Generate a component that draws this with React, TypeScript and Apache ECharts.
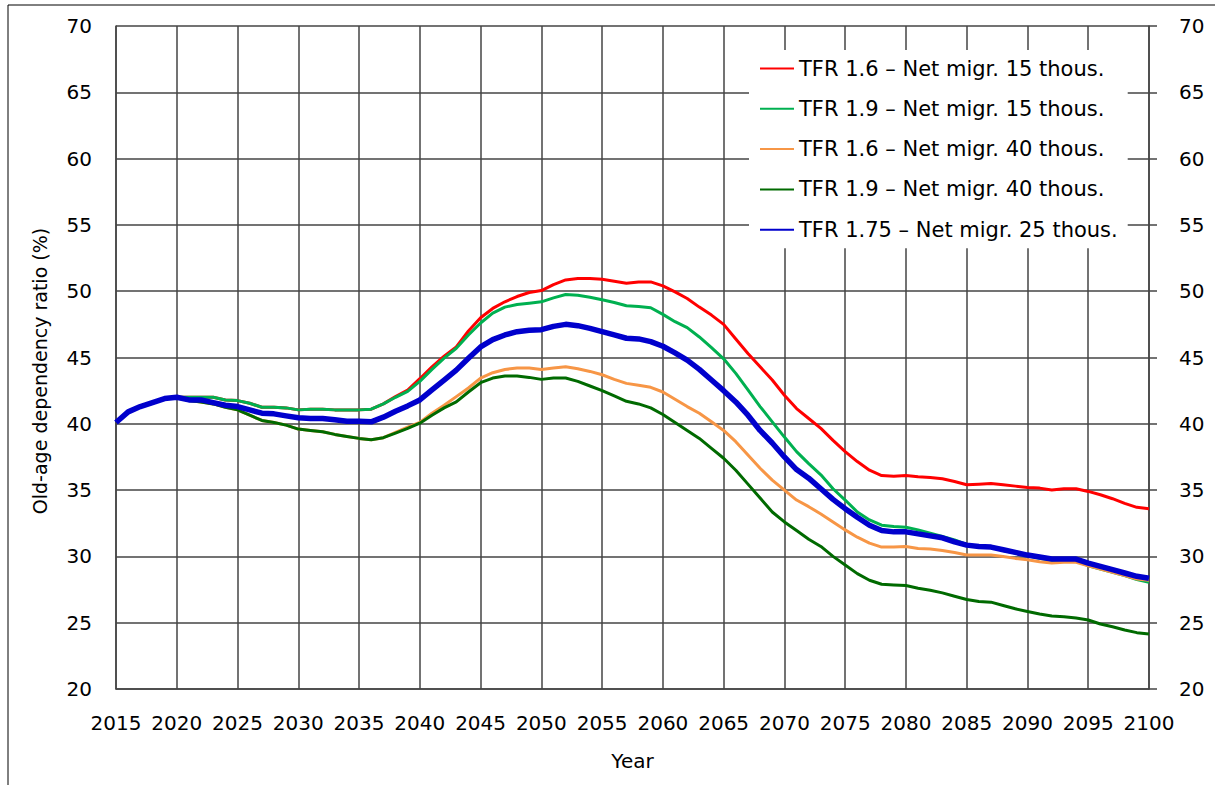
import React, { useEffect, useRef } from "react";
import * as echarts from "echarts";

const years: number[] = [];
for (let y = 2015; y <= 2100; y++) years.push(y);

const seriesNames = [
  "TFR 1.6 – Net migr. 15 thous.",
  "TFR 1.9 – Net migr. 15 thous.",
  "TFR 1.6 – Net migr. 40 thous.",
  "TFR 1.9 – Net migr. 40 thous.",
  "TFR 1.75 – Net migr. 25 thous.",
];

const tfr16m15 = [
  40.1, 40.9, 41.3, 41.6, 41.9, 42.0, 42.0, 42.0, 42.0, 41.8,
  41.75, 41.55, 41.25, 41.25, 41.2, 41.05, 41.1, 41.1, 41.05, 41.05,
  41.05, 41.1, 41.5, 42.05, 42.55, 43.4, 44.3, 45.1, 45.8, 47.0,
  48.0, 48.7, 49.2, 49.6, 49.9, 50.05, 50.5, 50.85, 50.95, 50.95,
  50.9, 50.75, 50.6, 50.7, 50.7, 50.4, 49.95, 49.45, 48.8, 48.2,
  47.5, 46.4, 45.3, 44.3, 43.3, 42.15, 41.15, 40.4, 39.65, 38.75,
  37.9, 37.15, 36.5, 36.1, 36.05, 36.1, 36.0, 35.95, 35.85, 35.65,
  35.4, 35.45, 35.5, 35.4, 35.3, 35.2, 35.15, 35.0, 35.1, 35.1,
  34.9, 34.65, 34.35, 34.0, 33.7, 33.6,
];

const tfr19m15 = [
  40.1, 40.9, 41.3, 41.6, 41.9, 42.0, 42.0, 42.0, 42.0, 41.8,
  41.75, 41.55, 41.25, 41.25, 41.2, 41.05, 41.1, 41.1, 41.05, 41.05,
  41.05, 41.1, 41.5, 42.0, 42.45, 43.2, 44.1, 44.95, 45.7, 46.7,
  47.6, 48.35, 48.8, 49.0, 49.1, 49.2, 49.5, 49.75, 49.7, 49.55,
  49.35, 49.15, 48.9, 48.85, 48.75, 48.25, 47.7, 47.25, 46.55, 45.75,
  44.9, 43.8, 42.55, 41.3, 40.15, 39.0, 37.9, 37.0, 36.15, 35.1,
  34.25, 33.35, 32.75, 32.35, 32.25, 32.2, 32.0, 31.75, 31.5, 31.25,
  30.9, 30.75, 30.7, 30.45, 30.25, 30.05, 29.85, 29.7, 29.7, 29.65,
  29.3, 29.05, 28.8, 28.55, 28.25, 28.05,
];

const tfr16m40 = [
  40.1, 40.9, 41.3, 41.6, 41.9, 42.0, 41.75, 41.65, 41.5, 41.25,
  41.05, 40.65, 40.25, 40.1, 39.9, 39.6, 39.5, 39.4, 39.2, 39.05,
  38.9, 38.8, 38.95, 39.35, 39.75, 40.1, 40.8, 41.4, 42.05, 42.7,
  43.45, 43.85, 44.1, 44.2, 44.2, 44.1, 44.2, 44.3, 44.15, 43.95,
  43.7, 43.35, 43.05, 42.9, 42.75, 42.4, 41.85, 41.3, 40.8, 40.15,
  39.5, 38.65, 37.65, 36.65, 35.75, 35.0, 34.25, 33.75, 33.2, 32.6,
  32.0, 31.45, 31.0, 30.7, 30.7, 30.75, 30.6, 30.55, 30.45, 30.3,
  30.1, 30.1, 30.1, 30.0, 29.85, 29.75, 29.6, 29.5, 29.55, 29.55,
  29.3, 29.05, 28.8, 28.55, 28.3, 28.2,
];

const tfr19m40 = [
  40.1, 40.9, 41.3, 41.6, 41.9, 42.0, 41.75, 41.65, 41.5, 41.25,
  41.05, 40.65, 40.25, 40.1, 39.9, 39.6, 39.5, 39.4, 39.2, 39.05,
  38.9, 38.8, 38.95, 39.3, 39.65, 40.05, 40.65, 41.2, 41.65, 42.4,
  43.1, 43.45, 43.6, 43.6, 43.5, 43.35, 43.45, 43.45, 43.2, 42.85,
  42.5, 42.1, 41.7, 41.5, 41.2, 40.7, 40.1, 39.5, 38.9, 38.15,
  37.4, 36.5, 35.45, 34.4, 33.35, 32.6, 31.95, 31.3, 30.75, 30.0,
  29.35, 28.7, 28.2, 27.9, 27.85, 27.8, 27.6, 27.45, 27.25, 27.0,
  26.75, 26.6, 26.55, 26.3, 26.05, 25.85, 25.65, 25.5, 25.45, 25.35,
  25.2, 24.9, 24.7, 24.45, 24.25, 24.15,
];

const tfr175m25 = [
  40.1, 40.9, 41.3, 41.6, 41.9, 42.0, 41.8, 41.8, 41.6, 41.4,
  41.3, 41.05, 40.8, 40.75, 40.6, 40.45, 40.4, 40.4, 40.3, 40.2,
  40.2, 40.15, 40.5, 40.95, 41.35, 41.8, 42.55, 43.3, 44.05, 44.95,
  45.8, 46.35, 46.7, 46.95, 47.05, 47.1, 47.35, 47.5, 47.4, 47.2,
  46.95, 46.7, 46.45, 46.4, 46.2, 45.85, 45.35, 44.8, 44.1, 43.3,
  42.5, 41.65, 40.65, 39.5, 38.55, 37.5, 36.55, 35.9, 35.1, 34.3,
  33.6, 32.95, 32.35, 31.95, 31.85, 31.85, 31.7, 31.55, 31.4, 31.1,
  30.85, 30.75, 30.7, 30.5, 30.3, 30.1, 29.95, 29.8, 29.8, 29.8,
  29.5, 29.25, 29.0, 28.75, 28.5, 28.35,
];

const allValues = [tfr16m15, tfr19m15, tfr16m40, tfr19m40, tfr175m25];
const colors = ["#FF0000", "#00B050", "#F79646", "#006A00", "#0000CC"];
const widths = [3, 3, 3, 3, 5.5];

const yAxisTitle = "Old-age dependency ratio (%)";
const xAxisTitle = "Year";

const FONT = "'DejaVu Sans', Verdana, sans-serif";

export default function App() {
  const ref = useRef<HTMLDivElement>(null);
  useEffect(() => {
    if (!ref.current) return;
    const chart = echarts.init(ref.current, undefined, { renderer: "svg" });
    const axisLabelStyle = { color: "#000", fontSize: 20, fontFamily: FONT };
    const gridLine = { show: true, lineStyle: { color: "#444", width: 1.5 } };
    chart.setOption({
      animation: false,
      backgroundColor: "#fff",
      textStyle: { fontFamily: FONT },
      grid: { left: 116, right: 66, top: 26, bottom: 96, containLabel: false },
      legend: {
        orient: "vertical",
        left: 749,
        top: 50,
        padding: [8, 10],
        backgroundColor: "#fff",
        itemWidth: 34,
        itemHeight: 21,
        itemGap: 19.3,
        itemStyle: { opacity: 0 },
        textStyle: { color: "#000", fontSize: 21, fontFamily: FONT, lineHeight: 21 },
        data: seriesNames,
      },
      xAxis: {
        type: "value",
        min: 2015,
        max: 2100,
        interval: 5,
        name: xAxisTitle,
        nameLocation: "middle",
        nameGap: 62,
        nameTextStyle: { color: "#000", fontSize: 20, fontFamily: FONT },
        axisLine: { show: true, lineStyle: { color: "#444", width: 1.5 } },
        axisTick: { show: false },
        axisLabel: { ...axisLabelStyle, margin: 24, formatter: (v: number) => String(v) },
        splitLine: gridLine,
      },
      yAxis: [
        {
          type: "value",
          min: 20,
          max: 70,
          interval: 5,
          position: "left",
          axisLine: { show: true, lineStyle: { color: "#444", width: 1.5 } },
          axisTick: { show: false },
          axisLabel: { ...axisLabelStyle, margin: 24 },
          splitLine: gridLine,
        },
        {
          type: "value",
          min: 20,
          max: 70,
          interval: 5,
          position: "right",
          axisLine: { show: true, lineStyle: { color: "#444", width: 1.5 } },
          axisTick: { show: true, length: 8, inside: false, lineStyle: { color: "#444", width: 1.5 } },
          axisLabel: { ...axisLabelStyle, margin: 30 },
          splitLine: { show: false },
        },
      ],
      graphic: [
        {
          type: "polyline",
          silent: true,
          shape: { points: [[8, 790], [8, 5], [1220, 5]] },
          style: { stroke: "#000", lineWidth: 1, fill: null },
        },
        {
          type: "text",
          silent: true,
          x: 40,
          y: 371,
          rotation: Math.PI / 2,
          style: {
            text: yAxisTitle,
            fill: "#000",
            fontSize: 19,
            fontFamily: FONT,
            align: "center",
            verticalAlign: "middle",
          },
        },
      ],
      series: allValues.map((vals, i) => ({
        name: seriesNames[i],
        type: "line",
        yAxisIndex: 0,
        symbol: "none",
        smooth: false,
        lineStyle: { color: colors[i], width: widths[i] },
        itemStyle: { color: colors[i] },
        data: years.map((yr, k) => [yr, vals[k]]),
        z: 3 + i,
      })),
    });
    return () => chart.dispose();
  }, []);
  return (
    <div
      ref={ref}
      style={{ position: "fixed", left: 0, top: 0, width: 1215, height: 785 }}
    />
  );
}
